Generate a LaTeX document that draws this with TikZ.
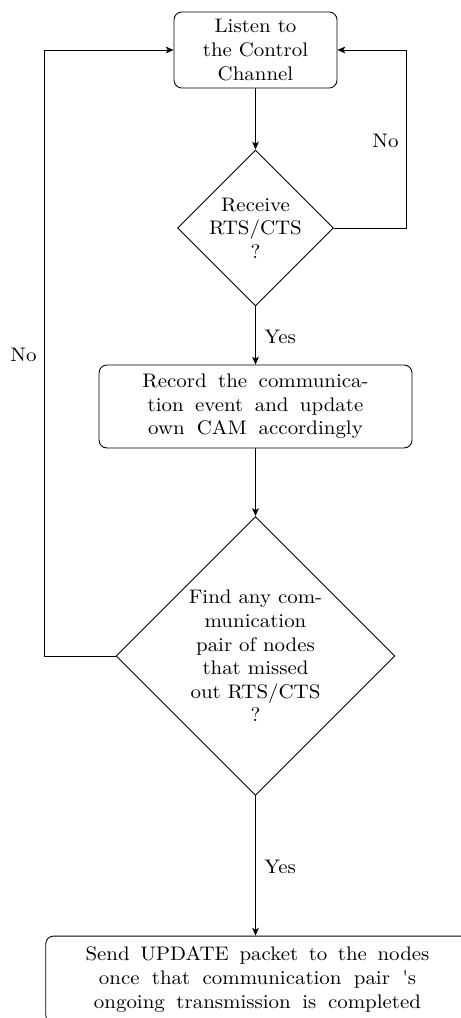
\documentclass[tikz,border=0pt]{standalone}
\usepackage{fontspec}
\setmainfont{lmroman10-regular.otf}[FakeStretch=1.067]
\usetikzlibrary{shapes.geometric,arrows.meta}
\begin{document}
\begin{tikzpicture}[
  x=0.51pt, y=-0.51pt,
  every node/.style={font=\fontsize{10}{12}\selectfont},
  flow/.style={line width=0.45pt, -{Stealth[length=4pt,width=3.4pt,inset=1pt]}},
  procbox/.style={draw, line width=0.45pt, rounded corners=4pt, align=center, inner sep=0pt},
  decision/.style={draw, line width=0.45pt, diamond, aspect=1, inner sep=0pt, align=center},
  lbl/.style={inner sep=0pt}
]
\useasboundingbox (0,0) rectangle (460,1018);

% process boxes
\node[procbox, minimum width=83.1pt, minimum height=38.8pt] (listen) at (255.5,50)
  {Listen to\\the Control\\Channel};
\node[procbox, minimum width=159.6pt, minimum height=42.3pt] (record) at (255.5,406.5)
  {\makebox[115.3pt][s]{Record the communica-}\\
   \makebox[110.0pt][s]{tion event and update}\\
   \makebox[109.5pt][s]{own CAM accordingly}};
\node[procbox, minimum width=216pt, minimum height=44.3pt] (send) at (257.5,979.5)
  {\makebox[175.4pt][s]{Send UPDATE packet to the nodes}\\
   \makebox[161.7pt][s]{once that communication pair \textquotesingle s}\\
   \makebox[166.8pt][s]{ongoing transmission is completed}};

% decisions
\node[decision, minimum width=79.6pt, minimum height=79.6pt] (rts) at (255.5,228)
  {Receive\\RTS/CTS\\?};
\node[decision, minimum width=142.3pt, minimum height=142.3pt] (miss) at (255.5,656)
  {Find any com-\\munication\\pair of nodes\\that missed\\out RTS/CTS\\?};

% loop corners
\coordinate (rloop) at (406,228);
\coordinate (lloop) at (44,656);

% connectors
\draw[flow] (listen) -- (rts);
\draw[flow] (rts.east) -- (rloop) |- (listen.east);
\draw[flow] (rts) -- (record);
\draw[flow] (record) -- (miss);
\draw[flow] (miss.west) -- (lloop) |- (listen.west);
\draw[flow] (miss) -- (send.north -| miss.south);

% branch labels
\node[lbl, anchor=east] (no1) at (399,141) {No};
\node[lbl, anchor=west] (yes1) at (264,337) {Yes};
\node[lbl, anchor=east] (no2) at (37,355) {No};
\node[lbl, anchor=west] (yes2) at (264,867) {Yes};
\end{tikzpicture}
\end{document}
